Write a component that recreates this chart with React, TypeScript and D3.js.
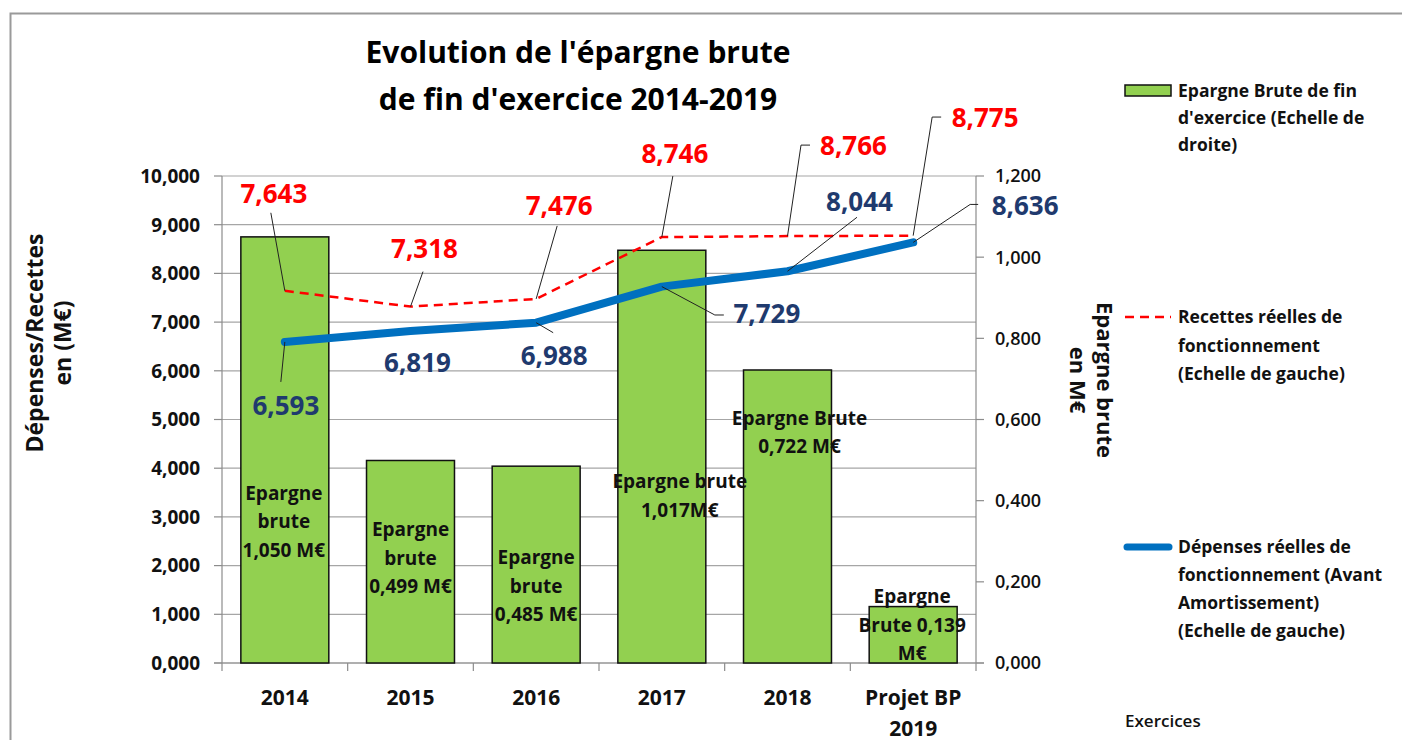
import React from "react";
import * as d3 from "d3";

const categories = ["2014", "2015", "2016", "2017", "2018", "Projet BP 2019"];
const categoryLines = [["2014"], ["2015"], ["2016"], ["2017"], ["2018"], ["Projet BP", "2019"]];
const epargne = [1.05, 0.499, 0.485, 1.017, 0.722, 0.139];
const recettes = [7.643, 7.318, 7.476, 8.746, 8.766, 8.775];
const depenses = [6.593, 6.819, 6.988, 7.729, 8.044, 8.636];
const barLabels = [
  ["Epargne", "brute", "1,050 M€"],
  ["Epargne", "brute", "0,499 M€"],
  ["Epargne", "brute", "0,485 M€"],
  ["Epargne brute", "1,017M€"],
  ["Epargne Brute", "0,722 M€"],
  ["Epargne", "Brute 0,139", "M€"],
];
const leftTicks = [0, 1, 2, 3, 4, 5, 6, 7, 8, 9, 10];
const rightTicks = [0, 0.2, 0.4, 0.6, 0.8, 1.0, 1.2];

// layout of manually-placed labels (offsets from the mark, in px)
const recLabelPos = [
  { dx: -11, dy: -97, leader: [[-14, -78]] },
  { dx: 14, dy: -58, leader: [[12.5, -35]] },
  { dx: 23, dy: -93, leader: [[21, -73]] },
  { dx: 13, dy: -83, leader: [[11, -61]] },
  { dx: 66, dy: -90, leader: [[13.5, -91], [22.5, -91]] },
  { dx: 72, dy: -118, leader: [[19, -118.6], [28, -118.6]] },
];
const depLabelPos = [
  { dx: 1, dy: 64, leader: [[-4, 40]] },
  { dx: 7, dy: 32, leader: [] },
  { dx: 18, dy: 33, leader: [[17, 10]] },
  { dx: 105, dy: 27, leader: [[53, 28.4], [62, 28.4]] },
  { dx: 72, dy: -70, leader: [[69.5, -54]] },
  { dx: 112, dy: -37, leader: [[57, -38], [65, -38]] },
];
const barLabelPos = [
  { dx: -1, dy: 256 },
  { dx: 0, dy: 69 },
  { dx: 0, dy: 91 },
  { dx: 18, dy: 231 },
  { dx: 12, dy: 48 },
  { dx: -1, dy: -10 },
];

const FONT = "'Open Sans', 'DejaVu Sans', sans-serif";
const locale = d3.formatLocale({ decimal: ",", thousands: " ", grouping: [3], currency: ["", "€"] });
const f3 = locale.format(".3f");

export default function App() {
  const W = 1402, H = 740;
  const x = d3.scaleBand<string>().domain(categories).range([222, 976]).paddingInner(0.3).paddingOuter(0.15);
  const yL = d3.scaleLinear().domain([0, 10]).range([663, 176]);
  const yR = d3.scaleLinear().domain([0, 1.2]).range([663, 176]);
  const cx = (i: number) => (x(categories[i]) as number) + x.bandwidth() / 2;
  const step = x.step();
  const x0 = 222, x1 = 976;

  const recPath = d3.line<number>().x((_, i) => cx(i)).y((d) => yL(d))(recettes) as string;
  const depPath = d3.line<number>().x((_, i) => cx(i)).y((d) => yL(d))(depenses) as string;

  const leaderPath = (px: number, py: number, pts: number[][]) =>
    "M" + px + "," + py + pts.map((p) => "L" + (px + p[0]) + "," + (py + p[1])).join("");

  return (
    <svg width={W} height={H} style={{ position: "absolute", left: 0, top: 0, background: "#fff" }} fontFamily={FONT}>
      <rect x={0} y={0} width={W} height={H} fill="#fff" />
      <rect x={10.5} y={13.5} width={1400} height={740} fill="none" stroke="#9a9a9a" strokeWidth={2} />

      {/* title */}
      <text x={578} y={63} textAnchor="middle" fontSize={30} fontWeight={700} fill="#000">Evolution de l'épargne brute</text>
      <text x={578} y={110} textAnchor="middle" fontSize={30} fontWeight={700} fill="#000">de fin d'exercice 2014-2019</text>

      {/* gridlines */}
      {leftTicks.map((t) => (
        <line key={"g" + t} x1={x0} x2={x1} y1={yL(t)} y2={yL(t)} stroke="#a6a6a6" strokeWidth={1.2} />
      ))}
      {/* axes */}
      <line x1={x0} x2={x0} y1={176} y2={663} stroke="#8c8c8c" strokeWidth={1.2} />
      <line x1={x1} x2={x1} y1={176} y2={663} stroke="#8c8c8c" strokeWidth={1.2} />
      {leftTicks.map((t) => (
        <g key={"lt" + t}>
          <line x1={x0 - 8} x2={x0} y1={yL(t)} y2={yL(t)} stroke="#8c8c8c" strokeWidth={1.2} />
          <text x={200} y={yL(t)} dy="0.36em" textAnchor="end" fontSize={19} fontWeight={700} fill="#111">{f3(t)}</text>
        </g>
      ))}
      {rightTicks.map((t) => (
        <g key={"rt" + t}>
          <line x1={x1} x2={x1 + 8} y1={yR(t)} y2={yR(t)} stroke="#8c8c8c" strokeWidth={1.2} />
          <text x={995} y={yR(t)} dy="0.36em" textAnchor="start" fontSize={18} fontWeight={600} fill="#111">{f3(t)}</text>
        </g>
      ))}
      {d3.range(categories.length + 1).map((i) => (
        <line key={"ct" + i} x1={x0 + i * step} x2={x0 + i * step} y1={663} y2={671} stroke="#8c8c8c" strokeWidth={1.2} />
      ))}
      <line x1={x0 - 8} x2={x1 + 8} y1={663} y2={663} stroke="#8c8c8c" strokeWidth={1.2} />

      {/* bars */}
      {epargne.map((v, i) => (
        <rect key={"b" + i} x={x(categories[i]) as number} y={yR(v)} width={x.bandwidth()} height={663 - yR(v)}
          fill="#92d050" stroke="#111" strokeWidth={1.5} />
      ))}
      {epargne.map((v, i) => (
        <text key={"bl" + i} textAnchor="middle" fontSize={19} fontWeight={700} fill="#111">
          {barLabels[i].map((s, k) => (
            <tspan key={k} x={cx(i) + barLabelPos[i].dx} y={yR(v) + barLabelPos[i].dy + k * 28.5} dy="0.36em">{s}</tspan>
          ))}
        </text>
      ))}

      {/* lines */}
      <path d={recPath} fill="none" stroke="#ff0000" strokeWidth={2.5} strokeDasharray="9,6" />
      <path d={depPath} fill="none" stroke="#0070c0" strokeWidth={8} strokeLinecap="round" strokeLinejoin="round" />

      {/* leaders and value labels */}
      {recettes.map((v, i) => (
        <g key={"rl" + i}>
          {recLabelPos[i].leader.length > 0 && (
            <path d={leaderPath(cx(i), yL(v), recLabelPos[i].leader)} fill="none" stroke="#222" strokeWidth={1} />
          )}
          <text x={cx(i) + recLabelPos[i].dx} y={yL(v) + recLabelPos[i].dy} dy="0.36em" textAnchor="middle"
            fontSize={26} fontWeight={700} fill="#ff0000">{f3(v)}</text>
        </g>
      ))}
      {depenses.map((v, i) => (
        <g key={"dl" + i}>
          {depLabelPos[i].leader.length > 0 && (
            <path d={leaderPath(cx(i), yL(v), depLabelPos[i].leader)} fill="none" stroke="#222" strokeWidth={1} />
          )}
          <text x={cx(i) + depLabelPos[i].dx} y={yL(v) + depLabelPos[i].dy} dy="0.36em" textAnchor="middle"
            fontSize={26} fontWeight={700} fill="#1f3a6e">{f3(v)}</text>
        </g>
      ))}

      {/* category labels */}
      {categoryLines.map((ls, i) => (
        <text key={"cl" + i} textAnchor="middle" fontSize={21} fontWeight={700} fill="#111">
          {ls.map((s, k) => (
            <tspan key={k} x={cx(i)} y={697 + k * 31} dy="0.36em">{s}</tspan>
          ))}
        </text>
      ))}
      <text x={1125} y={721} dy="0.36em" fontSize={17} fontWeight={600} fill="#111">Exercices</text>

      {/* axis titles */}
      <g transform="translate(35,343) rotate(-90)">
        <text x={0} y={0} dy="0.36em" textAnchor="middle" fontSize={23} fontWeight={700} fill="#111">Dépenses/Recettes</text>
        <text x={0} y={28} dy="0.36em" textAnchor="middle" fontSize={23} fontWeight={700} fill="#111">en (M€)</text>
      </g>
      <g transform="translate(1105,380) rotate(90)">
        <text x={0} y={0} dy="0.36em" textAnchor="middle" fontSize={22} fontWeight={700} fill="#111">Epargne brute</text>
        <text x={0} y={27} dy="0.36em" textAnchor="middle" fontSize={22} fontWeight={700} fill="#111">en M€</text>
      </g>

      {/* legend */}
      <rect x={1125} y={85} width={46} height={11} fill="#92d050" stroke="#111" strokeWidth={1.5} />
      <text fontSize={17.5} fontWeight={700} fill="#111">
        {["Epargne Brute de fin", "d'exercice (Echelle de", "droite)"].map((s, k) => (
          <tspan key={k} x={1178} y={91 + k * 27} dy="0.36em">{s}</tspan>
        ))}
      </text>
      <line x1={1125} x2={1171} y1={317} y2={317} stroke="#ff0000" strokeWidth={2.5} strokeDasharray="9,6" />
      <text fontSize={17.5} fontWeight={700} fill="#111">
        {["Recettes réelles de", "fonctionnement", "(Echelle de gauche)"].map((s, k) => (
          <tspan key={k} x={1178} y={317 + k * 28.5} dy="0.36em">{s}</tspan>
        ))}
      </text>
      <line x1={1127} x2={1169} y1={547} y2={547} stroke="#0070c0" strokeWidth={7} strokeLinecap="round" />
      <text fontSize={17.5} fontWeight={700} fill="#111">
        {["Dépenses réelles de", "fonctionnement (Avant", "Amortissement)", "(Echelle de gauche)"].map((s, k) => (
          <tspan key={k} x={1178} y={547 + k * 28} dy="0.36em">{s}</tspan>
        ))}
      </text>
    </svg>
  );
}
